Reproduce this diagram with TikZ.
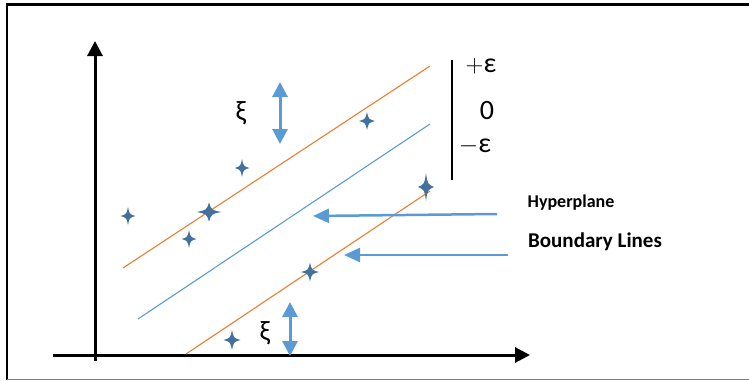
\documentclass[tikz,border=0pt]{standalone}
\usepackage{fontspec}
\setmainfont{Carlito}
\usetikzlibrary{arrows.meta}
\definecolor{svorange}{HTML}{ED7D31}
\definecolor{svblue}{HTML}{5B9BD5}
\definecolor{svstar}{HTML}{41719C}
\tikzset{
  sparkle/.pic={\fill[svstar] (1,0) .. controls (0.2,0.2) .. (0,1) .. controls (-0.2,0.2) .. (-1,0) .. controls (-0.2,-0.2) .. (0,-1) .. controls (0.2,-0.2) .. cycle;},
  axis/.style={line width=3pt,-{Triangle[width=15pt,length=15pt]}},
  margin/.style={svorange,line width=1.1pt},
  hyper/.style={svblue,line width=1.1pt},
  dbl/.style={svblue,line width=3pt,{Triangle[width=15pt,length=15pt]}-{Triangle[width=15pt,length=15pt]}},
  pointer/.style={svblue,line width=2.5pt,-{Triangle[width=14pt,length=16pt]}},
  lbl/.style={inner sep=0pt,font=\fontsize{28}{30}\selectfont},
}
\begin{document}
\begin{tikzpicture}[x=1pt,y=-1pt]
\useasboundingbox (0,0) rectangle (749,380);
% frame
\draw[line width=3pt] (7,4) -- (749,4);
\draw[line width=2.5pt] (7,3) -- (7,380);
\draw[gray,line width=1pt] (7,379) -- (749,379);
% axes
\coordinate (o1) at (95,361);
\coordinate (ytop) at (95,41);
\coordinate (o2) at (53,355);
\coordinate (xend) at (530,355);
\draw[axis] (o1) -- (ytop);
\draw[axis] (o2) -- (xend);
% lines
\coordinate (u1) at (123,268); \coordinate (u2) at (430,66);
\coordinate (h1) at (138,319); \coordinate (h2) at (430,124);
\coordinate (l1) at (186,354); \coordinate (l2) at (430,191);
\draw[margin] (u1) -- (u2);
\draw[hyper] (h1) -- (h2);
\draw[margin] (l1) -- (l2);
% stars
\path (128,216) pic[xscale=7.5,yscale=9] {sparkle};
\path (209,212) pic[xscale=12.5,yscale=9.5] {sparkle};
\path (189,239) pic[xscale=7.5,yscale=9] {sparkle};
\path (242,168) pic[xscale=7.5,yscale=9] {sparkle};
\path (367,121) pic[xscale=8,yscale=9] {sparkle};
\path (426,187) pic[xscale=8,yscale=14] {sparkle};
\path (310,272) pic[xscale=9,yscale=9.5] {sparkle};
\path (232,340) pic[xscale=8.5,yscale=10] {sparkle};
% double arrows
\coordinate (d1a) at (280,82); \coordinate (d1b) at (280,144);
\coordinate (d2a) at (290,302); \coordinate (d2b) at (290,356);
\draw[dbl] (d1a) -- (d1b);
\draw[dbl] (d2a) -- (d2b);
\node[lbl] (xi1) at (241,113) {ξ};
\node[lbl] (xi2) at (265,333) {ξ};
% epsilon bar
\coordinate (b1) at (452,60); \coordinate (b2) at (452,180);
\draw[line width=1.2pt] (b1) -- (b2);
\node[lbl] (pe) at (481,66) {$+$ε};
\node[lbl] (ze) at (487,111) {0};
\node[lbl] (me) at (475,146) {$-$ε};
% labels and pointers
\node[inner sep=0pt,font=\bfseries\fontsize{18}{20}\selectfont] (hyp) at (571,203) {Hyperplane};
\node[inner sep=0pt,font=\bfseries\fontsize{21}{24}\selectfont] (bnd) at (595,242) {Boundary Lines};
\coordinate (p1) at (497,214); \coordinate (p1t) at (313,216);
\coordinate (p2) at (508,255); \coordinate (p2t) at (344,255);
\draw[pointer] (p1) -- (p1t);
\draw[pointer] (p2) -- (p2t);
\end{tikzpicture}
\end{document}
